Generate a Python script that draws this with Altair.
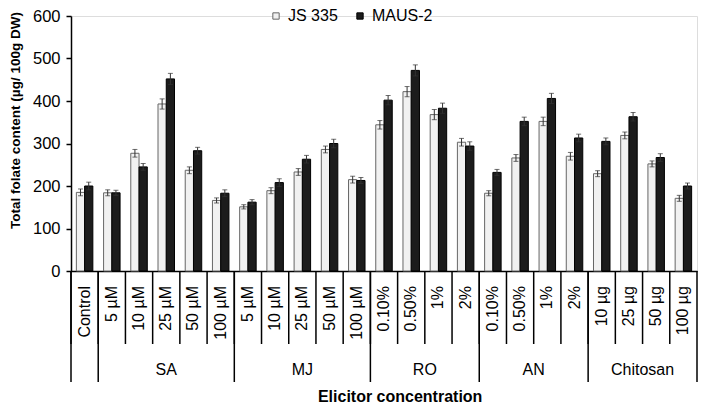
import altair as alt
import pandas as pd

# ---- data ----
groups = ["Control", "SA", "MJ", "RO", "AN", "Chitosan"]
levels = [
    ["Control"],
    ["5 µM", "10 µM", "25 µM", "50 µM", "100 µM"],
    ["5 µM", "10 µM", "25 µM", "50 µM", "100 µM"],
    ["0.10%", "0.50%", "1%", "2%"],
    ["0.10%", "0.50%", "1%", "2%"],
    ["10 µg", "25 µg", "50 µg", "100 µg"],
]
series = ["JS 335", "MAUS-2"]
js_values = [185, 184, 277, 393, 237, 166, 151, 189, 233, 286, 215,
             344, 422, 368, 303, 183, 266, 352, 270, 229, 319, 252, 171]
maus_values = [200, 184, 245, 452, 283, 183, 162, 208, 263, 300, 213,
               402, 472, 383, 294, 232, 352, 406, 313, 305, 363, 267, 200]
js_err = [8, 7, 9, 12, 8, 6, 5, 7, 8, 8, 8, 10, 12, 12, 9, 6, 8, 10, 9, 7, 8, 7, 7]
maus_err = [9, 6, 8, 13, 8, 8, 6, 9, 9, 10, 7, 11, 13, 12, 10, 7, 10, 12, 9, 8, 10, 9, 7]
y_ticks = [0, 100, 200, 300, 400, 500, 600]

# ---- build tables ----
keys, labels, grp_of = [], [], []
for g, lv in zip(groups, levels):
    for l in lv:
        keys.append(f"{g}|{l}")
        labels.append(l)
        grp_of.append(g)

rows = []
for i, k in enumerate(keys):
    for s, vals, errs in ((series[0], js_values, js_err), (series[1], maus_values, maus_err)):
        rows.append(dict(key=k, series=s, value=vals[i], lo=vals[i] - errs[i], hi=vals[i] + errs[i]))
df = pd.DataFrame(rows)
cats = pd.DataFrame(dict(key=keys, label=labels, group=grp_of))

first_keys = pd.DataFrame(dict(key=[f"{g}|{lv[0]}" for g, lv in zip(groups, levels)]))
last_key = pd.DataFrame(dict(key=[keys[-1]]))
odd_groups = pd.DataFrame([dict(key=f"{g}|{lv[len(lv)//2]}", group=g)
                           for g, lv in zip(groups, levels) if g != "Control" and len(lv) % 2 == 1])
even_groups = pd.DataFrame([dict(key=f"{g}|{lv[len(lv)//2]}", group=g)
                            for g, lv in zip(groups, levels) if g != "Control" and len(lv) % 2 == 0])

W, H = 626, 255
FONT = "Liberation Sans"

x_axis = alt.Axis(labels=False, ticks=False, domain=True, domainColor="black", domainWidth=1.5,
                  title="Elicitor concentration", titlePadding=117, titleFontSize=16,
                  titleFontWeight="bold", titleFont=FONT, titleColor="black", titleX=W * 0.525)
x_scale = alt.Scale(paddingInner=0, paddingOuter=0)


def X(**kw):
    return alt.X("key:N", sort=keys, scale=x_scale, axis=x_axis, **kw)


xoff = alt.XOffset("series:N", sort=series, scale=alt.Scale(paddingInner=0, paddingOuter=0.65))
y_scale = alt.Scale(domain=[0, 600], nice=False)
y_axis = alt.Axis(values=y_ticks, title="Total  folate content (µg/ 100g DW)", tickSize=5,
                  tickWidth=1.5, tickColor="black", domainColor="black", domainWidth=1.5,
                  labelPadding=6, labelFontSize=16.5, labelFont=FONT, labelColor="black",
                  titlePadding=10, titleFontSize=13.5, titleFontWeight="bold", titleFont=FONT,
                  titleColor="black", titleY=104, grid=False)

legend = alt.Legend(title=None, orient="none", legendX=197, legendY=-8, direction="horizontal",
                    symbolType="square", symbolSize=40, symbolStrokeWidth=1, labelFontSize=16,
                    labelFont=FONT, labelColor="black", columnPadding=14, labelOffset=4, padding=0)

bars = alt.Chart(df).mark_bar(strokeWidth=1).encode(
    x=X(),
    xOffset=xoff,
    y=alt.Y("value:Q", scale=y_scale, axis=y_axis),
    fill=alt.Fill("series:N", sort=series, scale=alt.Scale(domain=series, range=["#f1f1f1", "#1c1c1c"]), legend=legend),
    stroke=alt.Stroke("series:N", sort=series, scale=alt.Scale(domain=series, range=["#666666", "#000000"]), legend=legend),
)

stems = alt.Chart(df).mark_rule(color="#333333", strokeWidth=1).encode(
    x=X(), xOffset=xoff, y=alt.Y("lo:Q", scale=y_scale, axis=y_axis), y2="hi:Q")
caps_lo = alt.Chart(df).mark_tick(color="#333333", thickness=1, size=5, orient="horizontal").encode(
    x=X(), xOffset=xoff, y=alt.Y("lo:Q", scale=y_scale, axis=y_axis))
caps_hi = alt.Chart(df).mark_tick(color="#333333", thickness=1, size=5, orient="horizontal").encode(
    x=X(), xOffset=xoff, y=alt.Y("hi:Q", scale=y_scale, axis=y_axis))

cat_rules = alt.Chart(cats).mark_rule(color="black", strokeWidth=1.5).encode(
    x=X(bandPosition=0), y=alt.value(H), y2=alt.value(H + 73))
grp_rules = alt.Chart(first_keys).mark_rule(color="black", strokeWidth=1.5).encode(
    x=X(bandPosition=0), y=alt.value(H), y2=alt.value(H + 111))
end_rule = alt.Chart(last_key).mark_rule(color="black", strokeWidth=1.5).encode(
    x=X(bandPosition=1), y=alt.value(H), y2=alt.value(H + 111))

cat_text = alt.Chart(cats).mark_text(angle=270, align="right", baseline="middle", fontSize=16,
                                     font=FONT, color="black").encode(
    x=X(), y=alt.value(H + 15), text="label:N")
odd_text = alt.Chart(odd_groups).mark_text(align="center", baseline="middle", fontSize=16,
                                           font=FONT, color="black").encode(
    x=X(), y=alt.value(H + 99), text="group:N")
even_text = alt.Chart(even_groups).mark_text(align="center", baseline="middle", fontSize=16,
                                             font=FONT, color="black").encode(
    x=X(bandPosition=0), y=alt.value(H + 99), text="group:N")

chart = alt.layer(
    bars, stems, caps_lo, caps_hi, cat_rules, grp_rules, end_rule, cat_text, odd_text, even_text
).properties(width=W, height=H, padding=0).configure_view(stroke=None).configure(background="white")

chart.save("out.html", embed_options={"renderer": "svg", "actions": False})
